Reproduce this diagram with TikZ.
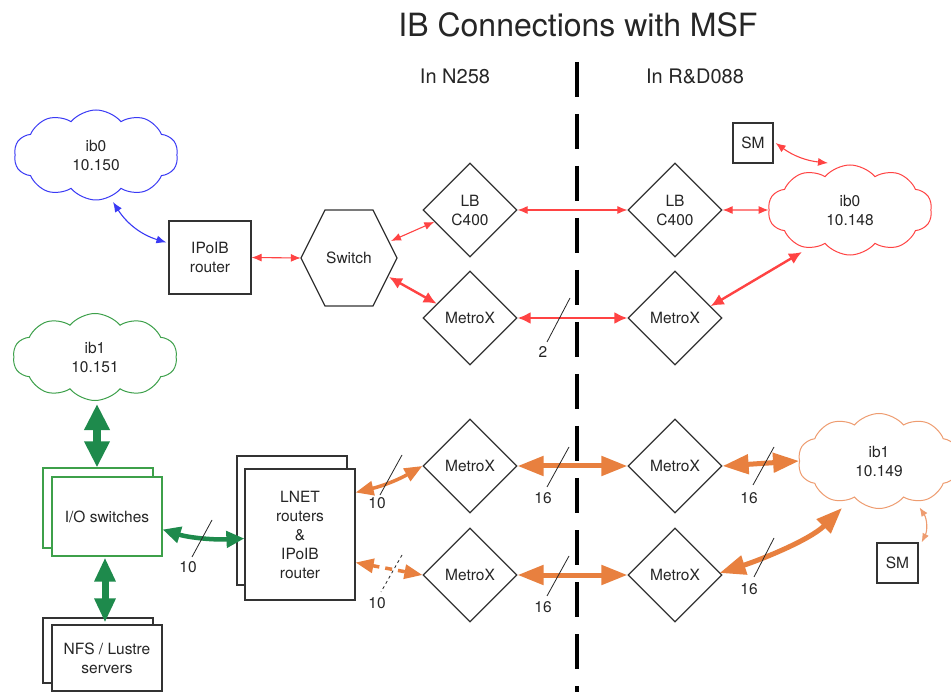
\documentclass[tikz,border=0pt]{standalone}
\usepackage{fontspec}
\setmainfont{TeX Gyre Heros}
\usetikzlibrary{shapes.geometric,shapes.symbols,arrows.meta,calc}
\definecolor{redc}{HTML}{FF4343}
\definecolor{bluec}{HTML}{3A3AF5}
\definecolor{greenc}{HTML}{1E8A4C}
\definecolor{greencl}{HTML}{3DA04A}
\definecolor{orangec}{HTML}{E8803F}
\definecolor{orangel}{HTML}{EE9C70}
\begin{document}
\begin{tikzpicture}[x=1pt,y=-1pt,
  every node/.style={font=\fontsize{15.5}{19}\selectfont, text=black!85},
  box/.style={draw=black!80, line width=1.2pt, fill=white, inner sep=0pt, align=center},
  dia/.style={diamond, draw=black!80, line width=1.2pt, fill=white, minimum width=94pt, minimum height=94pt, inner sep=0pt, align=center},
  ibcloud/.style={cloud, cloud puffs=10, cloud puff arc=100, cloud ignores aspect, fill=white, line width=1pt, inner sep=0pt, align=center},
  rthin/.style={draw=redc, line width=1.1pt, arrows={Latex[length=10pt,width=8pt]-Latex[length=10pt,width=8pt]}},
  rthick/.style={draw=redc, line width=2.4pt, arrows={Latex[length=13pt,width=12pt]-Latex[length=13pt,width=12pt]}},
  bthin/.style={draw=bluec, line width=1.1pt, arrows={Latex[length=10pt,width=8pt]-Latex[length=10pt,width=8pt]}},
  gbig/.style={draw=greenc, line width=8pt, arrows={Triangle[length=26pt,width=24pt]-Triangle[length=26pt,width=24pt]}},
  gnfs/.style={draw=greenc, line width=7pt, arrows={Triangle[length=24pt,width=20pt]-Triangle[length=24pt,width=20pt]}},
  gmed/.style={draw=greenc, line width=4.5pt, arrows={Triangle[length=18pt,width=16pt]-Triangle[length=18pt,width=16pt]}},
  obig/.style={draw=orangec, line width=5pt, arrows={Triangle[length=26pt,width=19pt]-Triangle[length=26pt,width=19pt]}},
  omed/.style={draw=orangec, line width=3.5pt, arrows={Triangle[length=18pt,width=14pt]-Triangle[length=18pt,width=14pt]}},
  othin/.style={draw=orangel, line width=1.1pt, arrows={Latex[length=9pt,width=7pt]-Latex[length=9pt,width=7pt]}},
  slash/.style={draw=black!85, line width=0.8pt},
]
\useasboundingbox[fill=white] (0,0) rectangle (951,692);

% title and headers
\node[font=\fontsize{32}{38}\selectfont] (title) at (578,25) {IB Connections with MSF};
\node[font=\fontsize{20}{24}\selectfont] (hl) at (455,76) {In N258};
\node[font=\fontsize{20}{24}\selectfont] (hr) at (695,76) {In R\&D088};
\coordinate (dtop) at (577,62);
\coordinate (dbot) at (577,692);
\draw[line width=4pt, dash pattern=on 35pt off 17pt] (dtop) -- (dbot);

% upper red network
\node[ibcloud, draw=bluec, minimum width=164pt, minimum height=90pt] (cb) at (96,155) {ib0\\10.150};
\node[box, minimum width=82pt, minimum height=73pt] (ipoib) at (210,257.5) {IPoIB\\router};
\node[minimum width=96pt, minimum height=96pt, inner sep=0pt] (sw) at (349,258) {Switch};
\draw[draw=black!80, line width=1.2pt] ($(sw)+(-48,0)$) -- ($(sw)+(-24,-48)$) -- ($(sw)+(24,-48)$) -- ($(sw)+(48,0)$) -- ($(sw)+(24,48)$) -- ($(sw)+(-24,48)$) -- cycle;
\node[dia] (lbl) at (470,210) {LB\\C400};
\node[dia] (mxl) at (470,318) {MetroX};
\node[dia] (lbr) at (675,210) {LB\\C400};
\node[dia] (mxr) at (675,318) {MetroX};
\node[ibcloud, draw=redc, minimum width=164pt, minimum height=90pt] (cr) at (850,210) {ib0\\10.148};
\node[box, minimum width=40pt, minimum height=40pt] (smt) at (753,143) {SM};

\draw[bthin] ($(cb)+(17,47)$) to[bend right=20] ($(ipoib.west)+(-2,-15)$);
\draw[rthin] (ipoib.east) -- (sw.west);
\draw[rthin] ($(sw)+(42,-17)$) -- ($(lbl.west)!0.25!(lbl.south)$);
\draw[rthick] ($(sw)+(40,19)$) -- ($(mxl.west)!0.3!(mxl.north)$);
\draw[rthin] (lbl.east) -- (lbr.west);
\draw[rthick] (mxl.east) -- (mxr.west);
\draw[rthin] (lbr.east) -- (cr.west);
\draw[rthin] ($(smt.east)+(2,0)$) to[bend right=15] ($(cr)+(-22,-47)$);
\draw[rthick] ($(mxr.east)!0.25!(mxr.north)$) -- ($(cr)+(-48,42)$);
\coordinate (s2a) at (570,298);
\coordinate (s2b) at (547,342);
\draw[slash] (s2a) -- (s2b);
\node (l2) at (543,352) {2};

% lower green network
\node[ibcloud, draw=greencl, minimum width=164pt, minimum height=87pt] (cg) at (95,357) {ib1\\10.151};
\node[box, draw=greencl, minimum width=110pt, minimum height=80pt] (iob) at (98,508) {};
\node[box, draw=greencl, minimum width=110pt, minimum height=79pt] (io) at (107,516.5) {I/O switches};
\node[box, minimum width=110pt, minimum height=65pt] (nfsb) at (98,650.5) {};
\node[box, minimum width=110pt, minimum height=66pt] (nfs) at (107,658) {NFS / Lustre\\servers};
\node[box, minimum width=110pt, minimum height=129pt] (lnetb) at (292,520.5) {};
\node[box, minimum width=110pt, minimum height=131pt] (lnet) at (300,534.5) {LNET\\routers\\\&\\IPoIB\\router};

\draw[gbig] ($(cg.south)+(2,3)$) -- (iob.north -| 97,0);
\draw[gnfs] ($(io.south)+(-2,1)$) -- ($(nfs.north)+(-2,-2)$);
\draw[gmed] ($(io.east)+(0,13)$) .. controls (190,538) and (215,540) .. ($(lnet.west)+(0,4)$);
\coordinate (s10a) at (212,520);
\coordinate (s10b) at (192,557);
\draw[slash] (s10a) -- (s10b);
\node (l10a) at (188,567) {10};

% orange network
\node[dia] (mxa) at (470,466) {MetroX};
\node[dia] (mxb) at (470,575) {MetroX};
\node[dia] (mxc) at (675,466) {MetroX};
\node[dia] (mxd) at (675,575) {MetroX};
\node[ibcloud, draw=orangel, minimum width=162pt, minimum height=95pt] (co) at (879,461) {ib1\\10.149};
\node[box, minimum width=41pt, minimum height=40pt] (smb) at (897.5,563) {SM};

\draw[omed] ($(lnet.east)+(0,-42)$) to[bend right=8] (mxa.west);
\draw[omed, dash pattern=on 7pt off 6pt] ($(lnet.east)+(0,28)$) -- (mxb.west);
\draw[obig] (mxa.east) -- (mxc.west);
\draw[obig] (mxb.east) -- (mxd.west);
\draw[obig] (mxc.east) -- (co.west);
\draw[obig] ($(mxd.east)+(-3,-2)$) .. controls (760,560) and (810,540) .. ($(co)+(-37,47)$);
\draw[othin] ($(smb.north)+(22,-35)$) to[bend left=30] ($(smb.north east)+(3,0)$);

\coordinate (s10c) at (402,455);
\coordinate (s10d) at (380,495);
\draw[slash] (s10c) -- (s10d);
\node (l10b) at (377,503) {10};
\coordinate (s10e) at (402,555);
\coordinate (s10f) at (381,592);
\draw[slash, dashed] (s10e) -- (s10f);
\node (l10c) at (377,603) {10};
\coordinate (s16a) at (569,447);
\coordinate (s16b) at (547,487);
\draw[slash] (s16a) -- (s16b);
\node (l16a) at (543,498) {16};
\coordinate (s16c) at (569,556);
\coordinate (s16d) at (547,596);
\draw[slash] (s16c) -- (s16d);
\node (l16b) at (543,607) {16};
\coordinate (s16e) at (774,447);
\coordinate (s16f) at (753,485);
\draw[slash] (s16e) -- (s16f);
\node (l16c) at (749,498) {16};
\coordinate (s16g) at (774,538);
\coordinate (s16h) at (754,577);
\draw[slash] (s16g) -- (s16h);
\node (l16d) at (749,589) {16};
\end{tikzpicture}
\end{document}
